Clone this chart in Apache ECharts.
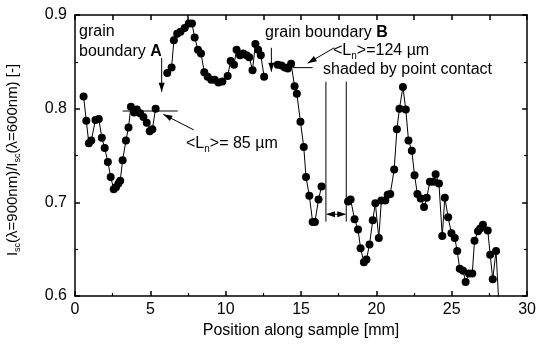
<!DOCTYPE html>
<html>
<head>
<meta charset="utf-8">
<script src="https://cdn.jsdelivr.net/npm/echarts@6/dist/echarts.min.js"></script>
<style>
  html, body { margin: 0; padding: 0; background: #fff; }
  #chart { width: 539px; height: 345px; }
</style>
</head>
<body>
<div id="chart"></div>
<script>
// position along the sample [mm] and the current ratio, null = gap in the scan
const positions = [
  0.57, 0.75, 0.92, 1.08, 1.36, 1.58, 1.78, 1.97, 2.18, 2.37, 2.57, 2.72, 2.88, 3.0,
  3.16, 3.38, 3.55, 3.71, 3.93, 4.1, 4.32, 4.54, 4.76, 4.96, 5.13, 5.35,
  5.75,
  6.12, 6.41, 6.56, 6.78, 7.0, 7.28, 7.55, 7.76, 7.94, 8.16, 8.36, 8.58, 8.8, 9.04,
  9.27, 9.52, 9.78, 10.13, 10.33, 10.55, 10.72, 10.95, 11.16, 11.38, 11.56, 11.78,
  11.97, 12.15, 12.33, 12.55,
  13.0,
  13.45, 13.7, 13.92, 14.12, 14.34, 14.57, 14.72, 14.96, 15.18, 15.33, 15.55,
  15.77, 15.92, 16.16, 16.36,
  17.2,
  18.12, 18.29, 18.55, 18.78, 18.95, 19.17, 19.34, 19.54, 19.76, 19.93, 20.16,
  20.33, 20.59, 20.75, 20.92, 21.18, 21.36, 21.53, 21.76, 21.95, 22.13, 22.35,
  22.53, 22.72, 22.94, 23.16, 23.34, 23.55, 23.78, 23.93, 24.15, 24.37, 24.54,
  24.76, 24.98, 25.2, 25.36, 25.53, 25.75, 25.92, 26.14, 26.36, 26.51, 26.74,
  26.89, 27.07, 27.39, 27.55, 27.72, 27.94, 28.16
];
const ratio = [
  0.813, 0.787, 0.763, 0.766, 0.788, 0.789, 0.769, 0.758, 0.743, 0.727, 0.714, 0.716, 0.720, 0.723,
  0.745, 0.766, 0.780, 0.802, 0.796, 0.799, 0.795, 0.791, 0.785, 0.776, 0.778, 0.800,
  null,
  0.838, 0.844, 0.873, 0.880, 0.882, 0.886, 0.891, 0.891, 0.876, 0.863, 0.859, 0.839, 0.834, 0.831,
  0.831, 0.828, 0.829, 0.835, 0.851, 0.847, 0.863, 0.857, 0.859, 0.857, 0.855, 0.841,
  0.869, 0.863, 0.857, 0.834,
  null,
  0.847, 0.846, 0.844, 0.843, 0.848, 0.824, 0.816, 0.786, 0.759, 0.727, 0.707,
  0.679, 0.679, 0.703, 0.717,
  null,
  0.701, 0.703, 0.682, 0.671, 0.651, 0.636, 0.639, 0.655, 0.681, 0.699, 0.662,
  0.702, 0.702, 0.708, 0.709, 0.735, 0.778, 0.800, 0.823, 0.799, 0.766, 0.755,
  0.729, 0.709, 0.704, 0.695, 0.705, 0.722, 0.722, 0.730, 0.720, 0.664, 0.705,
  0.684, 0.667, 0.662, 0.648, 0.629, 0.627, 0.615, 0.624, 0.624, 0.659, 0.669,
  0.672, 0.676, 0.670, 0.644, 0.618, 0.648, 0.580
];
const xTicks = [0, 5, 10, 15, 20, 25, 30];
const yTicks = [0.6, 0.7, 0.8, 0.9];

const FONT = 'Liberation Sans, Arial, sans-serif';
const chart = echarts.init(document.getElementById('chart'));

const axisCommon = {
  axisLine: { show: true, onZero: false, lineStyle: { color: '#000', width: 1.5 } },
  axisTick: { show: true, inside: true, length: 5, lineStyle: { color: '#000', width: 1.5 } },
  minorTick: { show: true, splitNumber: 2, length: 3, lineStyle: { color: '#000', width: 1.2 } },
  splitLine: { show: false },
};

chart.setOption({
  animation: false,
  grid: { left: 75, right: 8, top: 15, bottom: 49, containLabel: false },
  xAxis: [
    {
      type: 'value', min: xTicks[0], max: xTicks[xTicks.length - 1], interval: 5,
      position: 'bottom',
      name: 'Position along sample [mm]', nameLocation: 'middle', nameGap: 27,
      nameTextStyle: { fontFamily: FONT, fontSize: 16, color: '#000' },
      axisLabel: { fontFamily: FONT, fontSize: 16, color: '#000', margin: 6 },
      ...axisCommon,
    },
    {
      type: 'value', min: xTicks[0], max: xTicks[xTicks.length - 1], interval: 5,
      position: 'top', axisLabel: { show: false },
      ...axisCommon,
      axisTick: { show: true, inside: true, length: 5, lineStyle: { color: '#000', width: 1.5 } },
      minorTick: { show: true, splitNumber: 2, length: 5, lineStyle: { color: '#000', width: 1.5 } },
    },
  ],
  yAxis: [
    {
      type: 'value', min: yTicks[0], max: yTicks[yTicks.length - 1], interval: 0.1,
      position: 'left',
      axisLabel: { fontFamily: FONT, fontSize: 16, color: '#000', margin: 8,
        formatter: (v) => v.toFixed(1) },
      ...axisCommon,
    },
    {
      type: 'value', min: yTicks[0], max: yTicks[yTicks.length - 1], interval: 0.1,
      position: 'right', axisLabel: { show: false },
      ...axisCommon,
    },
  ],
  series: [
    {
      type: 'line',
      xAxisIndex: 0, yAxisIndex: 0,
      data: positions.map((x, i) => [x, ratio[i]]),
      connectNulls: false,
      clip: true,
      symbol: 'circle',
      symbolSize: 8,
      itemStyle: { color: '#000' },
      lineStyle: { color: '#000', width: 1 },
    },
  ],
});

// annotations, placed in data coordinates
const px = (x, y) => chart.convertToPixel({ xAxisIndex: 0, yAxisIndex: 0 }, [x, y]);

function seg(a, b) {
  const p = px(a[0], a[1]), q = px(b[0], b[1]);
  return { type: 'line', shape: { x1: p[0], y1: p[1], x2: q[0], y2: q[1] },
    style: { stroke: '#000', lineWidth: 1 } };
}
function head(from, to) {
  const p = px(from[0], from[1]), q = px(to[0], to[1]);
  const ang = Math.atan2(q[1] - p[1], q[0] - p[0]);
  const L = 9, W = 3;
  const bx = q[0] - L * Math.cos(ang), by = q[1] - L * Math.sin(ang);
  return { type: 'polygon', shape: { points: [
      [q[0], q[1]],
      [bx + W * Math.sin(ang), by - W * Math.cos(ang)],
      [bx - W * Math.sin(ang), by + W * Math.cos(ang)],
    ] }, style: { fill: '#000' } };
}
function arrow(from, to) { return [seg(from, to), head(from, to)]; }

const rich = {
  t: { fontFamily: FONT, fontSize: 16, color: '#000', lineHeight: 20, verticalAlign: 'middle' },
  b: { fontFamily: FONT, fontSize: 16, color: '#000', fontWeight: 'bold', lineHeight: 20, verticalAlign: 'middle' },
  s: { fontFamily: FONT, fontSize: 10, color: '#000', lineHeight: 9, verticalAlign: 'bottom' },
};
const richY = {
  t: { fontFamily: FONT, fontSize: 15, color: '#000', lineHeight: 19, verticalAlign: 'middle' },
  s: { fontFamily: FONT, fontSize: 9, color: '#000', lineHeight: 8, verticalAlign: 'bottom' },
};
function label(x, y, text, align) {
  return { type: 'text', x, y, style: { text, rich, align: align || 'left', verticalAlign: 'middle' } };
}

chart.setOption({
  graphic: [
    label(79, 32, '{t|grain}'),
    label(79, 52, '{t|boundary }{b|A}'),
    ...arrow([5.75, 0.854], [5.75, 0.818]),
    seg([3.16, 0.7975], [6.82, 0.7975]),
    ...arrow([7.88, 0.7773], [5.86, 0.794]),
    label(186, 144, '{t|<L}{s|n}{t|>= 85 µm}'),

    label(265, 33, '{t|grain boundary }{b|B}'),
    ...arrow([13.03, 0.865], [13.03, 0.8395]),
    seg([14.46, 0.8438], [15.77, 0.8438]),
    ...arrow([17.2, 0.865], [15.44, 0.8485]),
    label(333, 51, '{t|<L}{s|n}{t|>=124 µm}'),
    label(323, 70, '{t|shaded by point contact}'),

    seg([16.65, 0.8288], [16.65, 0.6794]),
    seg([18.0, 0.8288], [18.0, 0.6794]),
    seg([16.75, 0.6873], [17.9, 0.6873]),
    head([17.3, 0.6873], [16.65, 0.6873]),
    head([17.3, 0.6873], [18.0, 0.6873]),

    { type: 'text', x: 13, y: 160, rotation: Math.PI / 2,
      style: { text: '{t|I}{s|sc}{t|(λ=900nm)/I}{s|sc}{t|(λ=600nm) [-]}', rich: richY,
        align: 'center', verticalAlign: 'middle' } },
  ],
});
</script>
</body>
</html>
